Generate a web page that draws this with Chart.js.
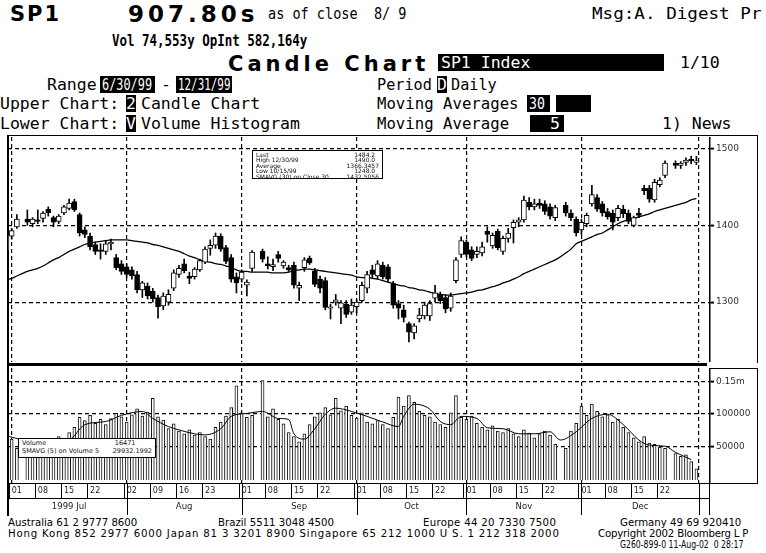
<!DOCTYPE html>
<html>
<head>
<meta charset="utf-8">
<script src="https://cdn.jsdelivr.net/npm/chart.js"></script>
<style>
  body { margin:0; background:#fff; width:766px; height:553px; position:relative; overflow:hidden; color:#000; }
  .t { position:absolute; white-space:pre; line-height:1; }
  .m { font-family:"DejaVu Sans Mono", monospace; font-size:16.5px; line-height:17px; }
  .n { display:inline-block; transform-origin:0 50%; }
  .blk { background:#000; color:#fff; height:17px; overflow:hidden; }
  .f { font-family:"DejaVu Sans", sans-serif; font-size:10.2px; }
  .ln { position:absolute; background:#000; }
  .lg { position:absolute; background:#fff; border:1px solid #000; font-family:"DejaVu Sans", sans-serif; font-size:6px; line-height:5.4px; color:#111; padding:1px 3px; box-sizing:border-box; }
  .lg div { display:flex; justify-content:space-between; white-space:pre; }
  .cv { position:absolute; }
</style>
</head>
<body>

<!-- header -->
<div class="t" style="left:10px;top:2px;font:bold 21px 'DejaVu Sans';letter-spacing:2px">SP1</div>
<div class="t" style="left:128px;top:1px;font:bold 23px 'DejaVu Sans';letter-spacing:4px">907.80s</div>
<div class="t m" style="left:268px;top:5px"><span class="n" style="transform:scaleX(0.82)">as of close  8/ 9</span></div>
<div class="t m" style="left:592px;top:5px;font-size:17.6px"><span class="n" style="transform:scaleY(0.94)">Msg:A. Digest Pr</span></div>
<div class="t m" style="left:112px;top:32px;font-size:16px;font-weight:bold"><span class="n" style="transform:scaleX(0.78)">Vol 74,553y OpInt 582,164y</span></div>
<div class="t" style="left:228px;top:52px;font:bold 21px 'DejaVu Sans';letter-spacing:4px">Candle Chart</div>
<div class="t m blk" style="left:438px;top:54px;width:223px;padding-left:3px">SP1 Index</div>
<div class="t m" style="left:680px;top:54px">1/10</div>

<div class="t m" style="left:47px;top:76px">Range</div>
<div class="t m blk" style="left:100px;top:76px;width:53px;padding-left:2px"><span class="n" style="transform:scaleX(0.72)">6/30/99</span></div>
<div class="t m" style="left:161px;top:76px">-</div>
<div class="t m blk" style="left:176px;top:76px;width:54px;padding-left:2px"><span class="n" style="transform:scaleX(0.66)">12/31/99</span></div>
<div class="t m" style="left:377px;top:76px"><span class="n" style="transform:scaleX(0.92)">Period</span></div>
<div class="t m blk" style="left:437px;top:76px;width:10px;text-align:center">D</div>
<div class="t m" style="left:451px;top:76px"><span class="n" style="transform:scaleX(0.92)">Daily</span></div>

<div class="t m" style="left:0px;top:95px">Upper Chart:</div>
<div class="t m blk" style="left:126px;top:95px;width:10px;text-align:center">2</div>
<div class="t m" style="left:141px;top:95px">Candle Chart</div>
<div class="t m" style="left:377px;top:95px"><span class="n" style="transform:scaleX(0.95)">Moving Averages</span></div>
<div class="t m blk" style="left:527px;top:95px;width:23px;text-align:center"><span class="n" style="transform:scaleX(0.8)">30</span></div>
<div class="t m blk" style="left:556px;top:95px;width:35px"></div>

<div class="t m" style="left:0px;top:115px">Lower Chart:</div>
<div class="t m blk" style="left:126px;top:115px;width:10px;text-align:center">V</div>
<div class="t m" style="left:141px;top:115px">Volume Histogram</div>
<div class="t m" style="left:377px;top:115px"><span class="n" style="transform:scaleX(0.95)">Moving Average</span></div>
<div class="t m blk" style="left:530px;top:115px;width:34px;text-align:right;padding-right:4px;box-sizing:border-box">5</div>
<div class="t m" style="left:662px;top:115px">1) News</div>

<!-- frame -->
<div class="ln" style="left:8px;top:135px;width:750px;height:1px"></div>
<div class="ln" style="left:7px;top:135px;width:2px;height:381px"></div>
<div class="ln" style="left:757px;top:135px;width:1px;height:228px"></div>
<div class="ln" style="left:8px;top:363px;width:699px;height:3px"></div>
<div class="ln" style="left:710px;top:368px;width:48px;height:1px"></div>
<div class="ln" style="left:757px;top:368px;width:1px;height:116px"></div>
<div class="ln" style="left:710px;top:483px;width:48px;height:1px"></div>

<div class="cv" style="left:8px;top:137px"><canvas id="upper" width="749" height="225"></canvas></div>
<div class="cv" style="left:8px;top:368px"><canvas id="lower" width="749" height="147"></canvas></div>

<div class="lg" style="left:252px;top:150px;width:131px;height:29px">
  <div><span>Last</span><span>1484.2  </span></div>
  <div><span>High 12/30/99</span><span>1490.0  </span></div>
  <div><span>Average</span><span>1366.3457</span></div>
  <div><span>Low 10/15/99</span><span>1248.0  </span></div>
  <div><span>SMAVG (30) on Close 30</span><span>1432.5056</span></div>
</div>
<div class="lg" style="left:18px;top:438px;width:138px;height:20px;font-size:6.5px;line-height:7.5px;padding-top:1px">
  <div><span>Volume</span><span>16471        </span></div>
  <div><span>SMAVG (5) on Volume 5</span><span>29932.1992</span></div>
</div>

<!-- footer -->
<div class="t f" style="left:8px;top:518px">Australia 61 2 9777 8600</div>
<div class="t f" style="left:218px;top:518px">Brazil 5511 3048 4500</div>
<div class="t f" style="left:423px;top:518px;letter-spacing:0.3px">Europe 44 20 7330 7500</div>
<div class="t f" style="left:620px;top:518px">Germany 49 69 920410</div>
<div class="t f" style="left:8px;top:529px;letter-spacing:0.8px">Hong Kong 852 2977 6000 Japan 81 3 3201 8900 Singapore 65 212 1000 U S. 1 212 318 2000</div>
<div class="t f" style="left:598px;top:529px;letter-spacing:-0.2px">Copyright 2002 Bloomberg L P</div>
<div class="t f" style="left:620px;top:540px"><span class="n" style="transform:scaleX(0.76)">G260-899-0 11-Aug-02  0 28:17</span></div>

<script>
// one slot per weekday, index 0 = 6/30/99 ... index 132 = 12/31/99, null = market closed
const open = [
  1366,1386,1398,null,1408,1402,1407,1409,1421,1410,1405,1416,1422,1431,1414,1394,1386,1375,1368,1366,1376,1358,1350,
  1346,1342,1336,1316,1321,1314,1306,1295,1300,1318,1336,1350,1334,1333,1342,1352,1370,1374,1386,1371,1358,1333,
  1330,1322,1344,null,1366,1350,1346,1362,1347,1345,1348,1318,1345,1357,1340,1330,1328,1292,1300,1292,1297,1287,
  1294,1302,1318,1342,1334,1348,1346,1324,1298,1290,1272,1260,1278,1282,1282,1305,1310,1306,1292,1328,1362,
  1378,1368,1362,1364,1392,1373,1392,1366,1383,1397,1404,1407,1430,1424,1429,1428,1424,1410,null,1426,1416,1408,
  1394,1402,1428,1436,1428,1418,1416,1410,1421,1416,1400,1416,1448,1448,1433,1453,1465,null,1481,1478,1482,1486,1482
];
const high = [
  1392,1396,1414,null,1420,1410,1420,1418,1424,1412,1414,1426,1434,1434,1416,1398,1390,1378,1376,1380,1382,1362,1354,
  1350,1346,1340,1327,1325,1318,1309,1312,1316,1342,1348,1356,1339,1345,1356,1372,1381,1390,1389,1374,1362,1338,
  1342,1329,1367,null,1369,1359,1356,1366,1354,1348,1352,1326,1358,1360,1344,1334,1332,1297,1310,1302,1302,1304,
  1303,1326,1340,1348,1354,1352,1349,1327,1302,1296,1274,1272,1292,1300,1302,1322,1313,1310,1312,1358,1385,
  1381,1372,1372,1378,1398,1390,1395,1386,1396,1407,1410,1438,1436,1434,1434,1432,1428,1426,null,1430,1420,1411,
  1408,1416,1452,1440,1431,1422,1420,1426,1426,1420,1412,1422,1452,1452,1460,1462,1484,null,1484,1483,1488,1490,1490
];
const low = [
  1362,1382,1396,null,1400,1398,1402,1404,1412,1398,1402,1414,1420,1418,1386,1384,1368,1362,1356,1362,1368,1342,1336,
  1332,1330,1312,1306,1304,1300,1279,1290,1296,1315,1332,1338,1324,1330,1340,1350,1361,1370,1366,1350,1326,1312,
  1326,1308,1340,null,1352,1343,1341,1352,1344,1340,1318,1302,1340,1349,1320,1312,1290,1278,1296,1272,1280,1284,
  1286,1300,1312,1332,1330,1330,1326,1292,1278,1274,1248,1252,1274,1278,1276,1300,1298,1286,1288,1325,1358,
  1359,1354,1358,1360,1378,1370,1368,1362,1378,1377,1398,1404,1420,1420,1422,1414,1408,1406,null,1412,1406,1386,
  1388,1398,1425,1418,1412,1408,1394,1406,1410,1402,1398,1410,1440,1430,1430,1450,1462,null,1474,1474,1478,1480,1479
];
const close = [
  1388,1393,1408,null,1404,1408,1405,1416,1416,1404,1412,1424,1429,1420,1390,1388,1372,1366,1366,1376,1378,1345,1340,
  1336,1334,1316,1325,1308,1304,1294,1308,1310,1338,1344,1341,1331,1343,1354,1369,1374,1386,1369,1353,1330,1325,
  1339,1326,1365,null,1356,1347,1349,1357,1352,1342,1322,1322,1355,1351,1323,1318,1293,1294,1303,1299,1284,1296,
  1300,1322,1336,1336,1350,1333,1330,1296,1292,1280,1261,1269,1283,1296,1298,1312,1302,1291,1308,1355,1380,
  1362,1357,1366,1372,1388,1387,1371,1383,1390,1404,1407,1433,1424,1428,1426,1418,1412,1423,null,1416,1410,1390,
  1404,1413,1440,1421,1416,1411,1404,1422,1415,1405,1410,1413,1445,1434,1456,1459,1481,null,1478,1481,1485,1484,1484
];
// 30 day moving average of close
const ma30 = [
  1329,1331,1334,1337,1340,1342,1344,1347,1351,1355,1358,1362,1366,1369,1372,1375,1377,1378,1379,1380,1381,1381,1381,
  1381,1380,1379,1378,1377,1375,1374,1372,1370,1368,1366,1363,1360,1358,1355,1353,1352,1350,1349,1347,1345,1342,
  1340,1340,1339,1339,1339,1339,1338,1338,1338,1339,1341,1342,1343,1343,1342,1341,1340,1339,1338,1337,1336,1335,
  1333,1332,1332,1331,1330,1328,1326,1324,1322,1321,1319,1318,1316,1315,1313,1311,1310,1309,1309,1310,1311,
  1312,1313,1315,1316,1318,1320,1322,1325,1327,1330,1333,1337,1340,1343,1346,1349,1352,1355,1359,1364,1369,1376,
  1379,1382,1385,1388,1390,1394,1398,1402,1405,1407,1409,1411,1413,1415,1418,1420,1422,1424,1426,1428,1430,1433,1435
];
const volume = [
  68000,62000,48000,null,58000,52000,61000,55000,47000,63000,66000,58000,72000,80000,95000,90000,98000,86000,92000,84000,93000,101000,96000,
  88000,99000,108000,97000,103000,124000,96000,91000,78000,85000,74000,70000,76000,68000,72000,66000,62000,80000,88000,97000,110000,143000,
  102000,95000,98000,null,151000,96000,108000,92000,85000,72000,66000,58000,70000,84000,96000,102000,110000,99000,124000,105000,112000,98000,
  94000,102000,88000,85000,90000,84000,78000,95000,126000,112000,128000,118000,104000,98000,96000,88000,84000,80000,102000,128000,95000,
  92000,97000,86000,80000,76000,82000,74000,72000,78000,70000,66000,76000,71000,64000,70000,74000,68000,54000,null,48000,74000,86000,
  112000,98000,115000,104000,96000,99000,88000,92000,80000,72000,64000,58000,66000,56000,54000,50000,48000,null,40000,36000,38000,28000,17000
];
// volume moving average, read at these slots
const volMaIdx = [0,3,5,8,12,15,19,22,26,28,31,33,36,38,41,43,46,49,52,54,55,57,59,61,63,66,69,72,75,76,
  78,81,83,85,87,90,92,95,98,101,104,106,109,112,115,118,121,123,126,128,131];
const volMa = [66900,60600,54400,57500,60600,84000,88700,98000,104000,93400,81000,76000,70000,68400,77800,
  96500,101000,104000,93400,91800,70000,62000,77800,99700,109000,104000,96500,88000,81000,96500,
  115000,107500,88700,84000,96500,93400,79300,77800,70000,70000,73100,60600,73100,93400,99700,
  84000,60600,52800,51200,41900,30900];

const monthStart = [1, 23, 45, 67, 88, 110, 132.5];
const monthMid = [12, 34, 56, 77.5, 99, 121.25];
const monthLabels = ['1999 Jul', 'Aug', 'Sep', 'Oct', 'Nov', 'Dec'];
const dayTickIdx = [1,6,11,16, 23,28,33,38, 45,50,55,60, 67,72,77,82, 88,93,98,103, 110,115,120,125];
const dayTickLabels = ['01','08','15','22','02','09','16','23','01','08','15','22',
                       '01','08','15','22','01','08','15','22','01','08','15','22'];
const priceTicks = [1300, 1400, 1500];
const volTicks = [50000, 100000, 150000];

const X_MIN = 0.3, X_MAX = 134.6;
Chart.defaults.font.family = "'DejaVu Sans', sans-serif";

const days = open.map((v, i) => i).filter(i => open[i] != null);
const setTicks = vals => s => { s.ticks = vals.map(v => ({ value: v })); };
const dash = [4, 3];

const gridX = {
  type: 'linear', min: X_MIN, max: X_MAX, offset: false,
  afterBuildTicks: setTicks(monthStart),
  afterFit: s => { s.height = 0; s.paddingLeft = 0; s.paddingRight = 0; },
  ticks: { display: false },
  grid: { offset: false, color: '#000', lineWidth: 1.2, drawTicks: false },
  border: { display: false, dash: dash }
};

function rightAxis(min, max, ticks, fmt) {
  return {
    position: 'right', min: min, max: max,
    afterBuildTicks: setTicks(ticks),
    afterFit: s => { s.width = 47; s.paddingTop = 0; s.paddingBottom = 0; },
    ticks: { color: '#333', font: { size: 9 }, padding: 2, callback: fmt },
    grid: { color: '#000', lineWidth: 1.2, drawTicks: true, tickLength: 4, tickColor: '#000', tickWidth: 2 },
    border: { display: true, color: '#000', width: 1.5, dash: dash }
  };
}

new Chart(document.getElementById('upper'), {
  type: 'bar',
  data: {
    datasets: [
      {
        type: 'line', order: 3,
        data: ma30.map((v, i) => ({ x: i, y: v })),
        borderColor: '#000', borderWidth: 1.3, pointRadius: 0, cubicInterpolationMode: 'monotone'
      },
      {
        order: 2, grouped: false, barThickness: 1, backgroundColor: '#000',
        data: days.map(i => ({ x: i, y: [low[i], high[i]] }))
      },
      {
        order: 1, grouped: false, barThickness: 5,
        data: days.map(i => ({ x: i, y: [open[i], close[i]] })),
        backgroundColor: days.map(i => close[i] >= open[i] ? '#fff' : '#000'),
        borderColor: '#000', borderWidth: 1, borderSkipped: false
      }
    ]
  },
  options: {
    responsive: false, animation: false,
    layout: { padding: 0 },
    plugins: { legend: { display: false }, tooltip: { enabled: false } },
    scales: {
      x: gridX,
      y: rightAxis(1222, 1515, priceTicks, v => String(v))
    }
  }
});

// cell borders of the date rows
const dateRows = {
  id: 'dateRows',
  afterDraw(chart) {
    const c = chart.ctx, xd = chart.scales.xd, xm = chart.scales.xm;
    const right = chart.chartArea.right;
    c.save();
    c.strokeStyle = '#000';
    c.lineWidth = 1;
    c.beginPath();
    [xd.top, xd.bottom, xm.bottom - 0.5].forEach(y => {
      c.moveTo(0, Math.round(y) + 0.5); c.lineTo(right, Math.round(y) + 0.5);
    });
    dayTickIdx.forEach(i => {
      const px = Math.round(xd.getPixelForValue(i)) - 2.5;
      c.moveTo(px, xd.top); c.lineTo(px, xd.bottom);
    });
    monthStart.slice(1).forEach(i => {
      const px = Math.round(xm.getPixelForValue(i)) + 0.5;
      c.moveTo(px, xd.top); c.lineTo(px, xm.bottom);
    });
    c.moveTo(right - 0.5, xd.top); c.lineTo(right - 0.5, xm.bottom);
    c.stroke();
    c.restore();
  }
};

new Chart(document.getElementById('lower'), {
  type: 'bar',
  data: {
    datasets: [
      {
        type: 'line', order: 1,
        data: volMaIdx.map((x, k) => ({ x: x, y: volMa[k] })),
        borderColor: '#000', borderWidth: 1, pointRadius: 0, cubicInterpolationMode: 'monotone'
      },
      {
        order: 2, grouped: false, barThickness: 3,
        data: days.map(i => ({ x: i, y: volume[i] })),
        backgroundColor: '#fff', borderColor: '#111',
        borderWidth: { top: 1, left: 1, right: 1, bottom: 0 }, borderSkipped: false
      }
    ]
  },
  options: {
    responsive: false, animation: false,
    layout: { padding: 0 },
    plugins: { legend: { display: false }, tooltip: { enabled: false } },
    scales: {
      x: Object.assign({}, gridX, { weight: 0 }),
      xd: {
        type: 'linear', position: 'bottom', weight: 1, min: X_MIN, max: X_MAX, offset: false,
        afterBuildTicks: setTicks(dayTickIdx),
        afterFit: s => { s.height = 15; s.paddingLeft = 0; s.paddingRight = 0; },
        ticks: { align: 'start', autoSkip: false, maxRotation: 0, padding: 3, color: '#222',
                 font: { size: 8 }, callback: (v, k) => dayTickLabels[k] },
        grid: { display: false, drawTicks: false },
        border: { display: false }
      },
      xm: {
        type: 'linear', position: 'bottom', weight: 2, min: X_MIN, max: X_MAX, offset: false,
        afterBuildTicks: setTicks(monthMid),
        afterFit: s => { s.height = 17; s.paddingLeft = 0; s.paddingRight = 0; },
        ticks: { autoSkip: false, maxRotation: 0, padding: 4, color: '#222',
                 font: { size: 8.5 }, callback: (v, k) => monthLabels[k] },
        grid: { display: false, drawTicks: false },
        border: { display: false }
      },
      y: rightAxis(-4700, 170000, volTicks, v => v === 150000 ? '0.15m' : String(v))
    }
  },
  plugins: [dateRows]
});
</script>
</body>
</html>
